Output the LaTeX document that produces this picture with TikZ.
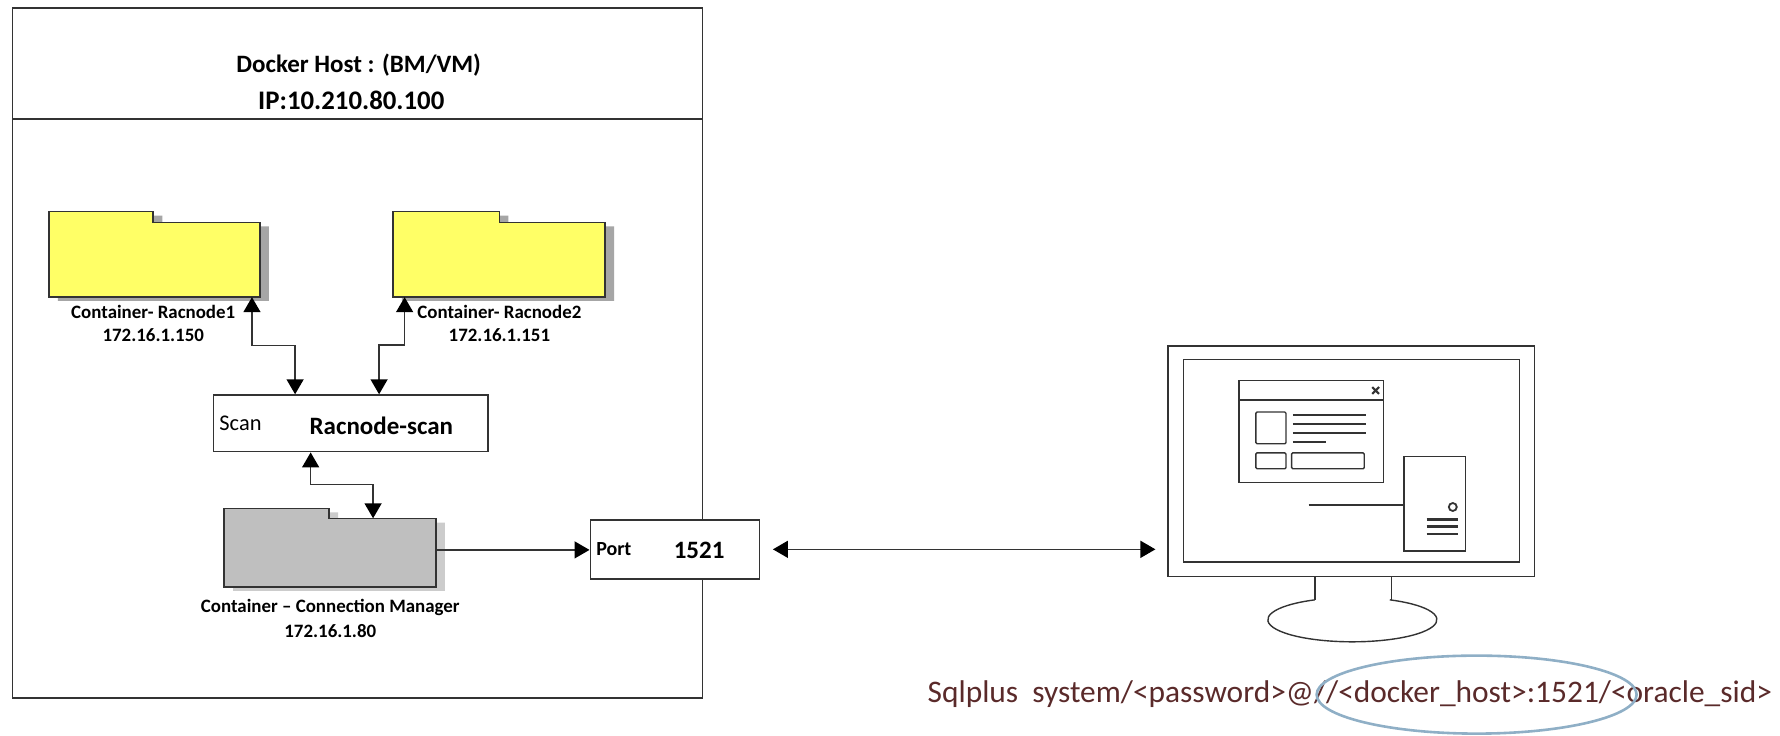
\documentclass[tikz,border=0pt]{standalone}
\usepackage{fontspec}
\setmainfont{Carlito}
\usetikzlibrary{arrows.meta,fit,shapes.geometric}
\definecolor{ln}{HTML}{333333}
\definecolor{fold}{HTML}{FFFF66}
\definecolor{shad}{HTML}{A6A6A6}
\definecolor{gfold}{HTML}{BFBFBF}
\definecolor{gshad}{HTML}{CCCCCC}
\definecolor{oval}{HTML}{8FAFC6}
\definecolor{sqlc}{HTML}{5A2A2A}
\tikzset{
  boxed/.style={draw=ln,line width=.7pt,fill=white,inner sep=0pt,rectangle},
  thin line/.style={draw=ln,line width=.7pt},
  biarrow/.style={draw=ln,line width=.75pt,{Triangle[length=7.5pt,width=8.5pt,fill=black,color=black]}-{Triangle[length=7.5pt,width=8.5pt,fill=black,color=black]}},
  oneway/.style={draw=ln,line width=.75pt,-{Triangle[length=7.5pt,width=8.5pt,fill=black,color=black]}},
  lab/.style={inner sep=0pt,font=\fontsize{9.45}{10}\selectfont\bfseries,text=black},
  big/.style={inner sep=0pt,font=\fontsize{12.5}{14}\selectfont\bfseries,text=black},
  ghost/.style={inner sep=0pt,rectangle}
}
% #1 name, #2 L, #3 T, #4 tab right, #5 step y, #6 R, #7 B, #8 fill, #9 shadow
\newcommand{\foldershape}[9]{%
  \fill[#9] (#2+8,#3+3.5) -- (#4+8,#3+3.5) -- (#4+8,#5+3.5) -- (#6+8,#5+3.5) -- (#6+8,#7+3.5) -- (#2+8,#7+3.5) -- cycle;
  \draw[fill=#8,draw=ln,line width=.8pt] (#2,#3) -- (#4,#3) -- (#4,#5) -- (#6,#5) -- (#6,#7) -- (#2,#7) -- cycle;
  \node[ghost,fit={(#2,#5) (#6,#7)}] (#1) {};
}
\begin{document}
\begin{tikzpicture}[x=0.5675pt,y=-0.5675pt]
\useasboundingbox (0,0) rectangle (1568.3,647.6);
% host
\node[boxed,fit={(11,7) (619,615)}] (host) {};
\node[boxed,fill=none,fit={(11,7) (619,105)}] (hosthead) {};
\node[big] (t1) at (316,57.5) {Docker Host : (BM/VM)};
\node[big,font=\fontsize{13.4}{15}\selectfont\bfseries] (t2) at (309.5,88) {IP:10.210.80.100};
% folders
\foldershape{r1}{43}{186.5}{135}{196}{229}{261.5}{fold}{shad}
\foldershape{r2}{346}{186.5}{440}{196}{533}{261.5}{fold}{shad}
\foldershape{cm}{197.5}{448}{290}{457}{384}{517}{gfold}{gshad}
\node[lab] (l1) at (135,274.5) {Container- Racnode1};
\node[lab] (l1b) at (135,295) {172.16.1.150};
\node[lab] (l2) at (440,274.5) {Container- Racnode2};
\node[lab] (l2b) at (440,295) {172.16.1.151};
\node[lab] (l3) at (291,535.5) {Container – Connection Manager};
\node[lab] (l3b) at (291,556) {172.16.1.80};
% scan
\node[boxed,fit={(188,348) (430,398)}] (scan) {};
\node[inner sep=0pt,anchor=west,font=\fontsize{11.2}{13}\selectfont] (scant) at (193,373) {Scan};
\node[big] (scann) at (336,375) {Racnode-scan};
% port
\node[boxed,fit={(520,458) (669,510)}] (port) {};
\node[inner sep=0pt,font=\fontsize{10}{12}\selectfont\bfseries,anchor=west] (portt) at (525,484) {Port};
\node[big] (portn) at (616,485) {1521};
% connectors
\coordinate (a1) at (222,0); \coordinate (a2) at (260,0);
\coordinate (b1) at (356.5,0); \coordinate (b2) at (334,0);
\coordinate (c1) at (273.7,0); \coordinate (c2) at (328.7,0);
\coordinate (h1) at (0,304.5); \coordinate (h2) at (0,304); \coordinate (h3) at (0,427);
\draw[biarrow] (r1.south -| a1) -- (a1 |- h1) -- (a2 |- h1) -- (scan.north -| a2);
\draw[biarrow] (r2.south -| b1) -- (b1 |- h2) -- (b2 |- h2) -- (scan.north -| b2);
\draw[biarrow] (scan.south -| c1) -- (c1 |- h3) -- (c2 |- h3) -- (cm.north -| c2);
\coordinate (pa) at (0,484.5);
\draw[oneway] (cm.east |- pa) -- (port.west |- pa);
% monitor
\node[boxed,fit={(1029,305) (1352,508)}] (mon) {};
\node[boxed,fit={(1042.5,317) (1339,495)}] (scr) {};
\node[boxed,fit={(1091.5,335.5) (1219,425)}] (win) {};
\draw[thin line] (1091.5,352.4) -- (1219,352.4);
\draw[thin line,line width=1.1pt] (1209,341) -- (1215,347) (1215,341) -- (1209,347);
\draw[boxed,rounded corners=.6pt] (1106.5,363) rectangle (1133,391);
\draw[boxed,rounded corners=.6pt] (1106.5,399) rectangle (1133,413);
\draw[boxed,rounded corners=.6pt] (1138,399) rectangle (1202,413);
\draw[thin line] (1139,365.6) -- (1203.5,365.6) (1139,373.5) -- (1203.5,373.5) (1139,381.5) -- (1203.5,381.5) (1139,389.4) -- (1168,389.4);
\node[boxed,fit={(1237,402) (1291,485.5)}] (tower) {};
\coordinate (wire) at (1153,445);
\draw[thin line] (wire) -- (tower.west |- wire);
\draw[thin line,line width=.9pt] (1280,446.7) circle (3.5);
\draw[thin line,line width=1.4pt] (1257,458) -- (1285,458) (1257,464) -- (1285,464) (1257,470.5) -- (1285,470.5);
\coordinate (pb) at (1018,484);
\coordinate (pc) at (681,484);
\draw[biarrow] (pc) -- (pb);
% stand
\draw[thin line] (1158.5,508) -- (1158.5,528.5);
\draw[thin line] (1226,508) -- (1226,528.5);
\draw[thin line] (1158.5,528.5) arc[start angle=-116.3,end angle=-423.7,x radius=74.5,y radius=19.5];
% the text and oval
\node[inner sep=0pt,anchor=west,text=sqlc,font=\fontsize{15.7}{19}\selectfont] (sql) at (817,612) {Sqlplus\ \ system/<password>@//<docker\_host>:1521/<oracle\_sid>};
\begin{scope}
\clip (0,0) rectangle (1568.3,647.6);
\node[ellipse,draw=oval,line width=1.3pt,minimum width=160pt,minimum height=39pt,inner sep=0pt] (ov) at (1301,612) {};
\end{scope}
\end{tikzpicture}
\end{document}
